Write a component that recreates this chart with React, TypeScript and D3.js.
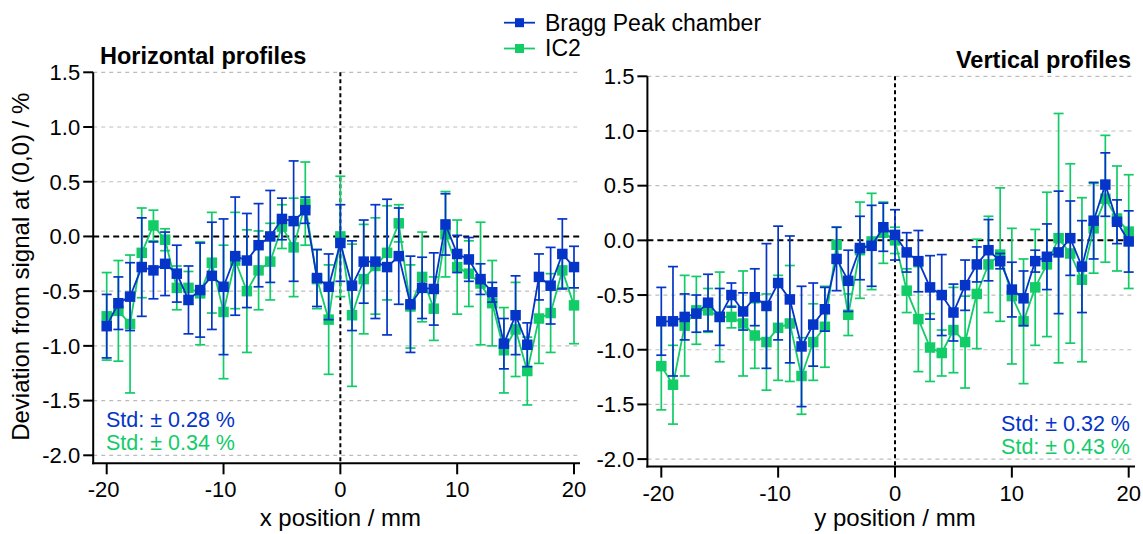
import React from "react";
import * as d3 from "d3";

// ---------- data ----------
const positions = [-20,-19,-18,-17,-16,-15,-14,-13,-12,-11,-10,-9,-8,-7,-6,-5,-4,-3,-2,-1,0,1,2,3,4,5,6,7,8,9,10,11,12,13,14,15,16,17,18,19,20];

const hBragg = [-0.82,-0.61,-0.55,-0.28,-0.31,-0.25,-0.34,-0.58,-0.49,-0.36,-0.46,-0.18,-0.22,-0.08,0.0,0.16,0.14,0.24,-0.38,-0.46,
  -0.06,
  -0.45,-0.23,-0.23,-0.28,-0.18,-0.62,-0.47,-0.48,0.11,-0.16,-0.21,-0.39,-0.51,-0.98,-0.72,-0.99,-0.37,-0.45,-0.16,-0.28];
const hBraggErr = [0.29,0.24,0.31,0.45,0.26,0.29,0.26,0.31,0.43,0.49,0.62,0.54,0.43,0.38,0.42,0.19,0.55,0.12,0.26,0.30,
  0.35,
  0.41,0.38,0.52,0.62,0.44,0.44,0.28,0.33,0.28,0.17,0.20,0.14,0.09,0.23,0.36,0.20,0.21,0.35,0.32,0.19];
const hIC2 = [-0.73,-0.68,-0.80,-0.15,0.10,-0.03,-0.47,-0.47,-0.52,-0.24,-0.69,-0.22,-0.50,-0.31,-0.23,0.09,-0.10,0.30,-0.39,-0.76,
  0.0,
  -0.72,-0.39,-0.27,-0.15,0.12,-0.64,-0.37,-0.66,0.02,-0.28,-0.34,-0.43,-0.61,-1.04,-0.85,-1.23,-0.75,-0.70,-0.31,-0.63];
const hIC2Err = [0.40,0.46,0.63,0.41,0.14,0.10,0.20,0.15,0.47,0.46,0.61,0.44,0.56,0.36,0.35,0.20,0.45,0.38,0.27,0.50,
  0.55,
  0.65,0.50,0.44,0.43,0.17,0.38,0.41,0.29,0.39,0.43,0.30,0.56,0.39,0.39,0.43,0.31,0.41,0.36,0.16,0.35];

const vBragg = [-0.74,-0.74,-0.70,-0.67,-0.57,-0.70,-0.50,-0.65,-0.52,-0.60,-0.39,-0.54,-0.97,-0.77,-0.63,-0.17,-0.37,-0.07,-0.05,0.12,
  0.05,
  -0.11,-0.19,-0.43,-0.50,-0.66,-0.41,-0.22,-0.09,-0.19,-0.45,-0.53,-0.19,-0.15,-0.11,0.02,-0.24,0.18,0.51,0.17,-0.01];
const vBraggErr = [0.31,0.50,0.21,0.17,0.26,0.26,0.11,0.17,0.26,0.57,0.52,0.58,0.55,0.38,0.20,0.29,0.28,0.29,0.37,0.22,
  0.23,
  0.18,0.28,0.29,0.37,0.26,0.23,0.16,0.28,0.07,0.25,0.25,0.10,0.30,0.56,0.34,0.42,0.35,0.29,0.20,0.28];
const vIC2 = [-1.15,-1.32,-0.78,-0.64,-0.64,-0.70,-0.70,-0.76,-0.87,-0.93,-0.80,-0.76,-1.24,-0.93,-0.79,-0.04,-0.68,-0.09,-0.01,0.07,
  0.0,
  -0.46,-0.72,-0.98,-1.03,-0.82,-0.93,-0.49,-0.22,-0.13,-0.51,-0.74,-0.43,-0.22,0.02,-0.12,-0.36,0.11,0.38,0.20,0.08];
const vIC2Err = [0.40,0.36,0.46,0.31,0.20,0.41,0.10,0.48,0.30,0.44,0.48,0.53,0.35,0.35,0.37,0.16,0.19,0.44,0.44,0.28,
  0.12,
  0.20,0.48,0.31,0.21,0.39,0.42,0.50,0.44,0.61,0.62,0.57,0.53,0.66,1.14,0.82,0.75,0.41,0.58,0.48,0.52];

const yTicks = [1.5, 1.0, 0.5, 0.0, -0.5, -1.0, -1.5, -2.0];
const xTicks = [-20, -10, 0, 10, 20];
const seriesNames = ["Bragg Peak chamber", "IC2"];
const panelTitles = ["Horizontal profiles", "Vertical profiles"];
const axisTitles = ["x position / mm", "y position / mm"];
const yAxisTitle = "Deviation from signal at (0,0) / %";
const stdLabels = [["Std: ± 0.28 %", "Std: ± 0.34 %"], ["Std: ± 0.32 %", "Std: ± 0.43 %"]];

// ---------- styles ----------
const BLUE = "#0535c8";
const GREEN = "#12cc68";
const FONT = "'Liberation Sans', Arial, Helvetica, sans-serif";

type Panel = {
  x0: number; x1: number; // pixel for -20, 20
  axisLeft: number; axisRight: number;
  yTop: number; yBot: number; // pixel for 1.5 and -2.0
  axisBottom: number;
  bragg: number[]; braggErr: number[]; ic2: number[]; ic2Err: number[];
  title: string; titleX: number; titleAnchor: string; titleY: number;
  xTitle: string;
  std: string[]; stdX: number; stdAnchor: string; stdY: number;
};

const panels: Panel[] = [
  {
    x0: 106.7, x1: 574, axisLeft: 93.2, axisRight: 580,
    yTop: 72.3, yBot: 455.3, axisBottom: 463.3,
    bragg: hBragg, braggErr: hBraggErr, ic2: hIC2, ic2Err: hIC2Err,
    title: panelTitles[0], titleX: 100, titleAnchor: "start", titleY: 64,
    xTitle: axisTitles[0],
    std: stdLabels[0], stdX: 106, stdAnchor: "start", stdY: 426.5,
  },
  {
    x0: 661.3, x1: 1128.7, axisLeft: 647.4, axisRight: 1135,
    yTop: 76.3, yBot: 459.1, axisBottom: 466.6,
    bragg: vBragg, braggErr: vBraggErr, ic2: vIC2, ic2Err: vIC2Err,
    title: panelTitles[1], titleX: 1131, titleAnchor: "end", titleY: 68,
    xTitle: axisTitles[1],
    std: stdLabels[1], stdX: 1130, stdAnchor: "end", stdY: 430.5,
  },
];

function Series({ xs, ys, errs, color, x, y }: any) {
  const line = d3.line<number>().x((_, i) => x(xs[i])).y((v) => y(v));
  const cap = 5;
  const m = 10.5;
  return (
    <g>
      {ys.map((v: number, i: number) => {
        const cx = x(xs[i]);
        const t = y(v + errs[i]);
        const b = y(v - errs[i]);
        return (
          <g key={"e" + i} stroke={color} strokeWidth={1.7}>
            <line x1={cx} x2={cx} y1={t} y2={b} />
            <line x1={cx - cap} x2={cx + cap} y1={t} y2={t} />
            <line x1={cx - cap} x2={cx + cap} y1={b} y2={b} />
          </g>
        );
      })}
      <path d={line(ys) || ""} fill="none" stroke={color} strokeWidth={1.8} />
      {ys.map((v: number, i: number) => (
        <rect key={"m" + i} x={x(xs[i]) - m / 2} y={y(v) - m / 2} width={m} height={m} fill={color} />
      ))}
    </g>
  );
}

function PanelView({ p, showYTitle }: { p: Panel; showYTitle: boolean }) {
  const x = d3.scaleLinear().domain([-20, 20]).range([p.x0, p.x1]);
  const y = d3.scaleLinear().domain([-2, 1.5]).range([p.yBot, p.yTop]);
  return (
    <g>
      {/* grid */}
      {yTicks.filter((t) => t !== 0).map((t) => (
        <line key={"g" + t} x1={p.axisLeft} x2={p.axisRight} y1={y(t)} y2={y(t)}
          stroke="#bdbdbd" strokeWidth={1.2} strokeDasharray="4,4" />
      ))}
      <line x1={p.axisLeft} x2={p.axisRight} y1={y(0)} y2={y(0)} stroke="#000" strokeWidth={2} strokeDasharray="6,4" />
      <line x1={x(0)} x2={x(0)} y1={y(1.5)} y2={p.axisBottom} stroke="#000" strokeWidth={2} strokeDasharray="4,3" />

      <Series xs={positions} ys={p.ic2} errs={p.ic2Err} color={GREEN} x={x} y={y} />
      <Series xs={positions} ys={p.bragg} errs={p.braggErr} color={BLUE} x={x} y={y} />

      {/* axes */}
      <line x1={p.axisLeft} x2={p.axisLeft} y1={y(1.5)} y2={p.axisBottom + 1} stroke="#000" strokeWidth={2} />
      <line x1={p.axisLeft - 1} x2={p.axisRight} y1={p.axisBottom} y2={p.axisBottom} stroke="#000" strokeWidth={2} />
      {yTicks.map((t) => (
        <g key={"yt" + t}>
          <line x1={p.axisLeft - 10} x2={p.axisLeft} y1={y(t)} y2={y(t)} stroke="#000" strokeWidth={2} />
          <text x={p.axisLeft - 13} y={y(t) + 7.8} textAnchor="end" fontSize={22} fontFamily={FONT} fill="#000">
            {t.toFixed(1)}
          </text>
        </g>
      ))}
      {xTicks.map((t) => (
        <g key={"xt" + t}>
          <line x1={x(t)} x2={x(t)} y1={p.axisBottom} y2={p.axisBottom + 11} stroke="#000" strokeWidth={2} />
          <text x={x(t) - (t < 0 ? 3 : 0)} y={p.axisBottom + 34} textAnchor="middle" fontSize={22} fontFamily={FONT} fill="#000">
            {String(t)}
          </text>
        </g>
      ))}
      <text x={x(0)} y={526} textAnchor="middle" fontSize={24} fontFamily={FONT} fill="#000">{p.xTitle}</text>
      {showYTitle && (
        <text transform={`translate(29,${(p.yTop + p.axisBottom) / 2 - 1}) rotate(-90)`} textAnchor="middle"
          fontSize={24} fontFamily={FONT} fill="#000">{yAxisTitle}</text>
      )}
      <text x={p.titleX} y={p.titleY} textAnchor={p.titleAnchor as any} fontSize={23.5} fontWeight="bold" fontFamily={FONT} fill="#000">
        {p.title}
      </text>
      <text x={p.stdX} y={p.stdY} textAnchor={p.stdAnchor as any} fontSize={21.5} fontFamily={FONT} fill={BLUE}>{p.std[0]}</text>
      <text x={p.stdX} y={p.stdY + 23} textAnchor={p.stdAnchor as any} fontSize={21.5} fontFamily={FONT} fill={GREEN}>{p.std[1]}</text>
    </g>
  );
}

function Legend() {
  const items = [
    { name: seriesNames[0], color: BLUE, y: 22.7 },
    { name: seriesNames[1], color: GREEN, y: 48.5 },
  ];
  return (
    <g>
      {items.map((it) => (
        <g key={it.name}>
          <line x1={504} x2={535} y1={it.y} y2={it.y} stroke={it.color} strokeWidth={1.8} />
          <rect x={515} y={it.y - 4.5} width={9} height={9} fill={it.color} />
          <text x={545} y={it.y + 7.8} fontSize={23} fontFamily={FONT} fill="#000">{it.name}</text>
        </g>
      ))}
    </g>
  );
}

export default function App() {
  return (
    <svg width={1143} height={534} style={{ position: "absolute", left: 0, top: 0, background: "#fff" }}>
      <rect x={0} y={0} width={1143} height={534} fill="#fff" />
      <PanelView p={panels[0]} showYTitle={true} />
      <PanelView p={panels[1]} showYTitle={false} />
      <Legend />
    </svg>
  );
}
